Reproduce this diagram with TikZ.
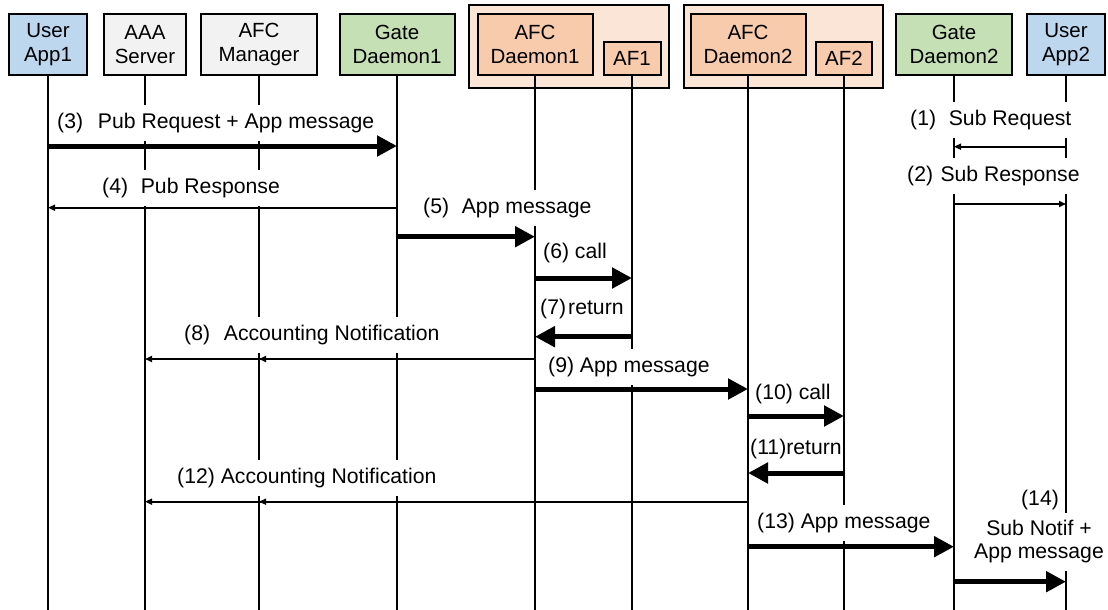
\documentclass[tikz,border=0pt]{standalone}
\usepackage{fontspec}
\setmainfont{Liberation Sans}
\usetikzlibrary{arrows.meta}
\definecolor{cblue}{HTML}{BDD7EE}
\definecolor{cgray}{HTML}{F2F2F2}
\definecolor{cgreen}{HTML}{C5E0B4}
\definecolor{corange}{HTML}{F8CBAD}
\definecolor{couter}{HTML}{FBE5D6}
\begin{document}
\begin{tikzpicture}[x=1pt,y=-1pt,
  actor/.style={draw=black, line width=2pt, minimum height=61pt, inner sep=0pt, align=center,
    font=\fontsize{20.5}{24}\selectfont},
  group/.style={draw=black, line width=2pt, fill=couter, inner sep=0pt},
  life/.style={line width=1.8pt},
  lbl/.style={fill=white, inner xsep=2pt, inner ysep=8pt, align=center,
    font=\fontsize{21.2}{23}\selectfont},
  callarrow/.style={line width=5pt, -{Triangle[length=20pt,width=20pt]}},
  msgarrow/.style={line width=1.6pt, -{Triangle[length=7pt,width=6pt]}},
]
\useasboundingbox (0,0) rectangle (1108,610);
% group frames
\node[group, minimum width=200.5pt, minimum height=83pt] (g1) at (568.75,46.5) {};
\node[group, minimum width=199pt, minimum height=83pt] (g2) at (783.5,46.5) {};
% actors
\node[actor, fill=cblue, minimum width=78pt] (app1) at (48,44.5) {User\\App1};
\node[actor, fill=cgray, minimum width=82pt] (aaa) at (145,44.5) {AAA\\Server};
\node[actor, fill=cgray, minimum width=116pt] (mgr) at (259,44.5) {AFC\\Manager};
\node[actor, fill=cgreen, minimum width=115pt] (gate1) at (397,44.5) {Gate\\Daemon1};
\node[actor, fill=corange, minimum width=115pt] (d1) at (535,44.5) {AFC\\Daemon1};
\node[actor, fill=corange, minimum width=57pt, minimum height=33pt] (af1) at (632,58.5) {AF1};
\node[actor, fill=corange, minimum width=115pt] (d2) at (748,44.5) {AFC\\Daemon2};
\node[actor, fill=corange, minimum width=56pt, minimum height=33pt] (af2) at (844,58.5) {AF2};
\node[actor, fill=cgreen, minimum width=116pt] (gate2) at (954,44.5) {Gate\\Daemon2};
\node[actor, fill=cblue, minimum width=78pt] (app2) at (1066,44.5) {User\\App2};
% lifelines
\foreach \n in {app1,aaa,mgr,gate1,d1,af1,d2,af2,gate2,app2}
  \draw[life] (\n.south) -- (\n.south |- 0,610);
% messages
\draw[msgarrow] (app2.south |- 0,146.7) -- (gate2.south |- 0,146.7);
\draw[msgarrow] (gate2.south |- 0,204) -- (app2.south |- 0,204);
\draw[callarrow] (app1.south |- 0,146) -- (gate1.south |- 0,146);
\draw[msgarrow] (gate1.south |- 0,207.7) -- (app1.south |- 0,207.7);
\draw[callarrow] (gate1.south |- 0,236.7) -- (d1.south |- 0,236.7);
\draw[callarrow] (d1.south |- 0,278) -- (af1.south |- 0,278);
\draw[callarrow] (af1.south |- 0,336.7) -- (d1.south |- 0,336.7);
\draw[msgarrow] (d1.south |- 0,359) -- (aaa.south |- 0,359);
\draw[msgarrow] (d1.south |- 0,359) -- (mgr.south |- 0,359);
\draw[callarrow] (d1.south |- 0,389) -- (d2.south |- 0,389);
\draw[callarrow] (d2.south |- 0,416) -- (af2.south |- 0,416);
\draw[callarrow] (af2.south |- 0,473) -- (d2.south |- 0,473);
\draw[msgarrow] (d2.south |- 0,501.7) -- (aaa.south |- 0,501.7);
\draw[msgarrow] (d2.south |- 0,501.7) -- (mgr.south |- 0,501.7);
\draw[callarrow] (d2.south |- 0,546.7) -- (gate2.south |- 0,546.7);
\draw[callarrow] (gate2.south |- 0,581.7) -- (app2.south |- 0,581.7);
% labels
\node[lbl, anchor=west] (l1) at (908,120) {(1)\hspace{0.6em}Sub Request};
\node[lbl, anchor=west] (l2) at (905,176) {(2)\hspace{0.35em}Sub Response};
\node[lbl, anchor=west] (l3) at (55,123) {(3)\hspace{0.7em}Pub Request + App message};
\node[lbl, anchor=west] (l4) at (100,188) {(4)\hspace{0.6em}Pub Response};
\node[lbl, anchor=west] (l5) at (421,208) {(5)\hspace{0.6em}App message};
\node[lbl, anchor=west, fill=none] (l6) at (541,253) {(6) call};
\node[lbl, anchor=west, fill=none] (l7) at (538,309) {(7)\hspace{0.1em}return};
\node[lbl, anchor=west] (l8) at (182,335) {(8)\hspace{0.65em}Accounting Notification};
\node[lbl, anchor=west] (l9) at (546,367) {(9) App message};
\node[lbl, anchor=west, fill=none] (l10) at (753,394) {(10) call};
\node[lbl, anchor=west, fill=none] (l11) at (748,449) {(11)return};
\node[lbl, anchor=west] (l12) at (175,478) {(12) Accounting Notification};
\node[lbl, anchor=west] (l13) at (755,523) {(13) App message};
\node[lbl, fill=none] (l14a) at (1040,500) {(14)};
\node[lbl] (l14b) at (1039,542) {Sub Notif +\\App message};
\end{tikzpicture}
\end{document}
